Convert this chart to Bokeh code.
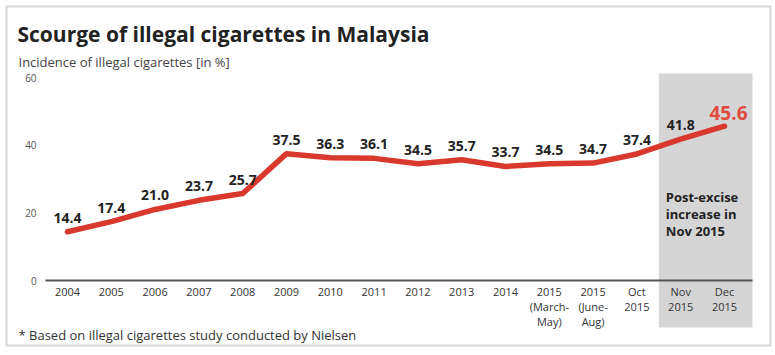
from bokeh.plotting import figure
from bokeh.models import Range1d, FixedTicker, Label, BoxAnnotation, ColumnDataSource
from bokeh.core.properties import value
from bokeh.embed import file_html
from bokeh.resources import INLINE

# ---- data ----
categories = ["2004", "2005", "2006", "2007", "2008", "2009", "2010", "2011",
              "2012", "2013", "2014", "2015\n(March-\nMay)", "2015\n(June-\nAug)",
              "Oct\n2015", "Nov\n2015", "Dec\n2015"]
values = [14.4, 17.4, 21.0, 23.7, 25.7, 37.5, 36.3, 36.1,
          34.5, 35.7, 33.7, 34.5, 34.7, 37.4, 41.8, 45.6]
value_labels = ["14.4", "17.4", "21.0", "23.7", "25.7", "37.5", "36.3", "36.1",
                "34.5", "35.7", "33.7", "34.5", "34.7", "37.4", "41.8", "45.6"]
y_ticks = [0, 20, 40, 60]
highlight_start = "Nov\n2015"
note_lines = ["Post-excise", "increase in", "Nov 2015"]
title_text = "Scourge of illegal cigarettes in Malaysia"
subtitle_text = "Incidence of illegal cigarettes [in %]"
footnote_text = "* Based on illegal cigarettes study conducted by Nielsen"

FONT = "Open Sans"
xs = list(range(len(categories)))
n = len(categories)

# frame covers the whole canvas; axes are placed inside it
PX_X = 43.8     # px per category
PX_Y = 3.383    # px per percent
x0_px, y0_px = 67.0, 280.0
x_start = -x0_px / PX_X
x_end = (775 - x0_px) / PX_X
y_end = y0_px / PX_Y
y_start = -(355 - y0_px) / PX_Y
plot_right = (752 - x0_px) / PX_X
plot_left = -0.5

p = figure(width=775, height=355, output_backend="svg", toolbar_location=None,
           x_range=Range1d(x_start, x_end), y_range=Range1d(y_start, y_end),
           min_border=0)
p.outline_line_color = None
p.grid.visible = False
p.background_fill_color = "white"
p.border_fill_color = "white"

# highlight box (Nov/Dec 2015)
hi = categories.index(highlight_start)
p.quad(left=[hi - 0.5], right=[plot_right], bottom=[-13.9], top=[61.2],
       fill_color="#d5d5d5", line_color=None)

# line
src = ColumnDataSource(dict(x=xs, y=values, lab=value_labels))
p.line("x", "y", source=src, line_color="#d9392c", line_width=5.5, line_cap="round", line_join="round")

# value labels
main = ColumnDataSource(dict(x=xs[:-1], y=values[:-1], lab=value_labels[:-1]))
p.text("x", "y", text="lab", source=main, text_align="center", text_baseline="middle",
       y_offset=-14, text_font=value(FONT), text_font_style="bold", text_font_size="14px",
       text_color="#222222")
last = ColumnDataSource(dict(x=xs[-1:], y=values[-1:], lab=value_labels[-1:]))
p.text("x", "y", text="lab", source=last, text_align="center", text_baseline="middle",
       x_offset=4, y_offset=-13, text_font=value(FONT), text_font_style="bold",
       text_font_size="19px", text_color="#e04a3f")

# note in box
p.text(x=[hi - 0.34] * 3, y=[24.0] * 3, text=note_lines,
       y_offset=[-2, 15, 32], text_align="left", text_baseline="middle",
       text_font=value(FONT), text_font_style="bold", text_font_size="13px",
       text_color="#222222")

# axes
xa = p.xaxis[0]
xa.fixed_location = 0
xa.bounds = (plot_left, plot_right)
xa.ticker = FixedTicker(ticks=xs)
xa.major_label_overrides = {i: c for i, c in enumerate(categories)}
xa.axis_line_color = "#555555"
xa.axis_line_width = 2
xa.major_tick_line_color = None
xa.minor_tick_line_color = None
xa.major_label_text_font = FONT
xa.major_label_text_font_size = "11px"
xa.major_label_text_color = "#333333"
xa.major_label_text_line_height = 1.0
xa.major_label_standoff = -3

ya = p.yaxis[0]
ya.fixed_location = plot_left
ya.ticker = FixedTicker(ticks=y_ticks)
ya.axis_line_color = None
ya.major_tick_line_color = None
ya.minor_tick_line_color = None
ya.major_label_text_font = FONT
ya.major_label_text_font_size = "10px"
ya.major_label_text_color = "#555555"
ya.major_label_standoff = 3

# outer border
p.add_layout(BoxAnnotation(left=6, right=770, top=6, bottom=345,
                           left_units="canvas", right_units="canvas",
                           top_units="canvas", bottom_units="canvas",
                           fill_color=None, line_color="#7a7a7a", line_width=2, level="overlay"))

# texts
p.add_layout(Label(x=17, y=33, x_units="canvas", y_units="canvas", text=title_text,
                   text_font=FONT, text_font_style="bold", text_font_size="21px",
                   text_color="#222222", text_baseline="alphabetic"))
p.add_layout(Label(x=18, y=61, x_units="canvas", y_units="canvas", text=subtitle_text,
                   text_font=FONT, text_font_size="13px", text_color="#444444",
                   text_baseline="alphabetic"))
p.add_layout(Label(x=18, y=334, x_units="canvas", y_units="canvas", text=footnote_text,
                   text_font=FONT, text_font_size="13px", text_color="#333333",
                   text_baseline="alphabetic"))

open("out.html", "w").write(file_html(p, INLINE))
